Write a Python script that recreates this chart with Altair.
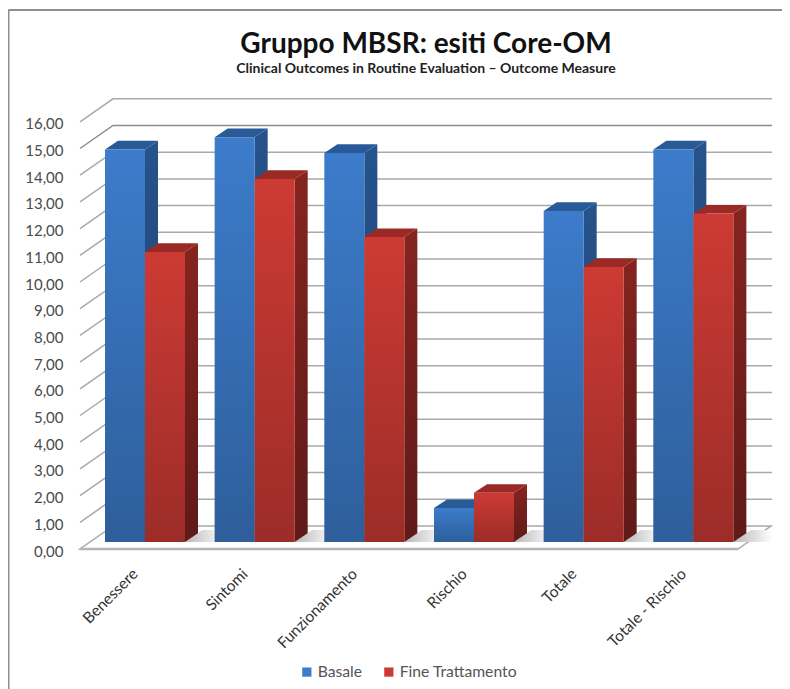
import altair as alt
import pandas as pd

# ---- data
categories = ["Benessere", "Sintomi", "Funzionamento", "Rischio", "Totale", "Totale - Rischio"]
series_names = ["Basale", "Fine Trattamento"]
basale = [14.7, 15.16, 14.57, 1.27, 12.4, 14.7]
fine_trattamento = [10.86, 13.6, 11.42, 1.84, 10.3, 12.3]
tick_values = list(range(0, 17))

# ---- page geometry (px), used only to derive scale domains / pseudo-3D offsets
PX_CAT = 109.67      # width of a category along the x axis
PX_UNIT = 26.7       # height of one value unit
VIEW_W, VIEW_H = 692, 451
WALL_DX, WALL_DV = 33 / PX_CAT, 23 / PX_UNIT
BAR_DX, BAR_DV = 13 / PX_CAT, 8.7 / PX_UNIT
BASE_V = 7 / PX_UNIT
BAR_START, BAR_W = 25 / PX_CAT, 40 / PX_CAT
XMAX = VIEW_W / PX_CAT
YMAX = VIEW_H / PX_UNIT

X = alt.X("x:Q", title=None, stack=None,
          scale=alt.Scale(domain=[0, XMAX], nice=False, zero=False),
          axis=alt.Axis(values=[i + 0.5 for i in range(6)],
                        labelExpr="%r[round(datum.value-0.5)]" % categories,
                        labelAngle=315, labelAlign="right", labelBaseline="middle",
                        labelFont="Lato", labelFontSize=15.5, labelColor="#333333",
                        labelPadding=22, labelOverlap=False, labelBound=False, labelFlush=False,
                        domain=False, ticks=False, grid=False))
Y = alt.Y("y:Q", title=None, stack=None,
          scale=alt.Scale(domain=[0, YMAX], nice=False, zero=False),
          axis=alt.Axis(values=tick_values,
                        labelExpr="replace(format(datum.value,'.2f'),'.',',')",
                        labelFont="Lato", labelFontSize=15, labelColor="#4a4a4a",
                        labelPadding=17, labelOffset=2, labelOverlap=False, labelBound=False,
                        labelFlush=False, domain=False, ticks=False, grid=False))
Y2 = alt.Y2("y2:Q")
X2 = alt.X2("x2:Q")

# ---- frame
frame_top = pd.DataFrame({"x": [-72 / PX_CAT + 0.002, (790 - 80) / PX_CAT],
                          "y": [(VIEW_H + 98 - 10) / PX_UNIT] * 2})
frame_left = pd.DataFrame({"x": [-71.5 / PX_CAT] * 2,
                           "y": [(VIEW_H + 98 - 10) / PX_UNIT, (VIEW_H + 98 - 689) / PX_UNIT]})
frame = [
    alt.Chart(d).mark_line(color="#8f8f8f", strokeWidth=2, clip=False).encode(x=X, y=Y)
    for d in (frame_top, frame_left)
]

# ---- walls
grid_rows = []
for v in tick_values:
    if v == 0:
        continue
    grid_rows += [{"x": 0, "y": v, "v": v},
                  {"x": WALL_DX, "y": v + WALL_DV, "v": v},
                  {"x": XMAX, "y": v + WALL_DV, "v": v}]
grid_df = pd.DataFrame(grid_rows)
grid = alt.Chart(grid_df[grid_df.v != 15]).mark_line(color="#a9a9a9", strokeWidth=1.5).encode(
    x=X, y=Y, detail="v:N")
grid_dark = alt.Chart(grid_df[grid_df.v == 15]).mark_line(color="#8c8c8c", strokeWidth=1.5).encode(
    x=X, y=Y)

floor_right = 658 / PX_CAT
floor = alt.Chart(pd.DataFrame({
    "x": [0, WALL_DX, floor_right, floor_right + WALL_DX],
    "y": [0, 0, 0, WALL_DV],
    "y2": [0, WALL_DV, WALL_DV, WALL_DV],
})).mark_area(color="#ffffff", line=False, stroke="#a9a9a9", strokeWidth=1.5).encode(x=X, y=Y, y2=Y2)
floor_lip = alt.Chart(pd.DataFrame({
    "x": [0, floor_right], "y": [0, 0],
})).mark_line(color="#b5b5b5", strokeWidth=2.5).encode(x=X, y=Y)


def grad(c1, c2):
    return alt.Gradient(gradient="linear", x1=0, y1=0, x2=0, y2=1,
                        stops=[alt.GradientStop(color=c1, offset=0), alt.GradientStop(color=c2, offset=1)])


# ---- floor shadows
shadow_fill = alt.Gradient(gradient="linear", x1=0, y1=0, x2=1, y2=0,
                           stops=[alt.GradientStop(color="#b8b8b8", offset=0),
                                  alt.GradientStop(color="#ffffff", offset=1)])
shadow_rows = []
for i in range(6):
    xr = i + BAR_START + 2 * BAR_W
    top = BASE_V + BAR_DV + 0.12
    shadow_rows += [{"x": xr, "y": BASE_V, "y2": BASE_V, "c": i},
                    {"x": xr + 0.16, "y": BASE_V, "y2": top, "c": i},
                    {"x": xr + 0.36, "y": BASE_V, "y2": top, "c": i}]
shadow = alt.Chart(pd.DataFrame(shadow_rows)).mark_area(color=shadow_fill).encode(
    x=X, y=Y, y2=Y2, detail="c:N")


# ---- bars
def build(values, name, slot, side_fill, top_color, shade_color):
    front, top_rows, side_rows = [], [], []
    for i, v in enumerate(values):
        x0 = i + BAR_START + slot * BAR_W
        x1 = x0 + BAR_W
        yv = v + BASE_V
        front.append({"x": x0, "x2": x1, "y": BASE_V, "y2": yv, "series": name})
        top_rows += [{"x": x0, "y": yv, "y2": yv, "c": i},
                     {"x": x0 + BAR_DX, "y": yv, "y2": yv + BAR_DV, "c": i},
                     {"x": x1, "y": yv, "y2": yv + BAR_DV, "c": i},
                     {"x": x1 + BAR_DX, "y": yv + BAR_DV, "y2": yv + BAR_DV, "c": i}]
        side_rows += [{"x": x1, "y": BASE_V, "y2": yv, "c": i},
                      {"x": x1 + BAR_DX, "y": BASE_V + BAR_DV, "y2": yv + BAR_DV, "c": i}]
    front_df = pd.DataFrame(front)
    layers = []
    for j in range(len(values)):
        layers.append(alt.Chart(pd.DataFrame([r for r in side_rows if r["c"] == j]))
                      .mark_area(color=side_fill).encode(x=X, y=Y, y2=Y2))
    layers.append(alt.Chart(pd.DataFrame(top_rows)).mark_area(color=top_color).encode(
        x=X, y=Y, y2=Y2, detail="c:N"))
    layers.append(alt.Chart(front_df).mark_rect().encode(
        x=X, x2=X2, y=Y, y2=Y2,
        color=alt.Color("series:N",
                        scale=alt.Scale(domain=series_names, range=["#3c7ccb", "#cd3a34"]),
                        legend=alt.Legend(title=None, orient="none", legendX=219, legendY=566,
                                          direction="horizontal", symbolType="square", symbolSize=85,
                                          symbolStrokeWidth=0, labelFont="Lato", labelFontSize=15.7,
                                          labelColor="#555555", columnPadding=18, labelOffset=3))))
    layers.append(alt.Chart(front_df).mark_rect(color=grad(shade_color, "rgba(0,0,0,0.24)")).encode(
        x=X, x2=X2, y=Y, y2=Y2))
    return layers


blue = build(basale, series_names[0], 0, grad("#26538c", "#1d3f6c"), "#295a98", "rgba(0,0,0,0)")
red = build(fine_trattamento, series_names[1], 1, grad("#85241f", "#5f1a18"), "#9a2a26", "rgba(0,0,0,0)")

chart = alt.layer(*frame, grid, grid_dark, floor, floor_lip, shadow, *blue, *red).properties(
    width=VIEW_W, height=VIEW_H,
    padding={"left": 72, "top": 90, "right": 10, "bottom": 140},
    autosize=alt.AutoSizeParams(type="none"),
    background="#ffffff",
    title=alt.TitleParams("Gruppo MBSR: esiti Core-OM",
                          subtitle="Clinical Outcomes in Routine Evaluation – Outcome Measure",
                          font="Lato", fontSize=28, fontWeight="bold", color="#111111",
                          subtitleFont="Lato", subtitleFontSize=14, subtitleFontWeight="bold",
                          subtitleColor="#222222", subtitlePadding=3,
                          anchor="middle", offset=-70),
).configure_view(stroke=None)

chart.save("out.html", embed_options={"renderer": "svg", "actions": False})
